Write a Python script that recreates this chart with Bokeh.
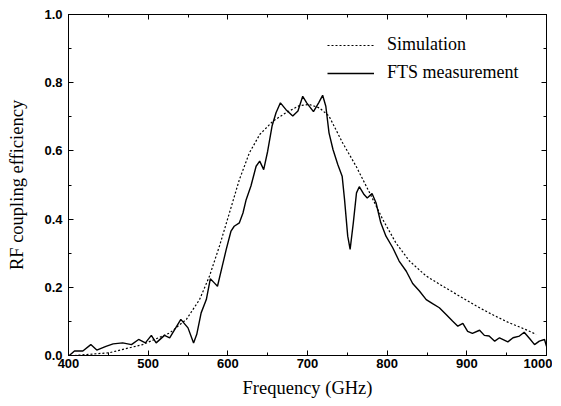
from bokeh.plotting import figure
from bokeh.models import (Range1d, LinearAxis, SingleIntervalTicker, PrintfTickFormatter,
                          Legend, LegendItem, CustomJSTickFormatter)
from bokeh.embed import file_html
from bokeh.resources import INLINE

# FTS measurement
freq_meas = [401, 407.5, 418, 428, 435.5, 447, 456, 468, 479, 488, 496.5, 504, 510, 520.5, 527,
             541, 550, 557, 561, 566.5, 573, 578, 583, 587, 593, 598, 604, 608, 614.5, 619, 623,
             629, 635.5, 640, 645, 650, 655.5, 660.5, 666, 673, 681.5, 688, 694, 699, 707.5, 714,
             719, 723, 727, 732, 738, 743.5, 746.5, 750.5, 753.5, 757.5, 761.5, 765, 771, 775,
             781, 786, 792, 798.5, 807, 815, 824, 832, 840.5, 849, 857, 865.5, 874, 882, 888.7,
             895, 901, 907, 916, 922, 928, 935, 941, 951.5, 958, 966, 972, 979, 985, 991, 997.5, 1000]
eff_meas = [0.0, 0.013, 0.013, 0.032, 0.016, 0.027, 0.034, 0.037, 0.032, 0.047, 0.037, 0.059, 0.037,
            0.059, 0.052, 0.106, 0.081, 0.037, 0.062, 0.125, 0.164, 0.225, 0.213, 0.203, 0.262,
            0.311, 0.365, 0.379, 0.389, 0.418, 0.457, 0.497, 0.555, 0.570, 0.545, 0.599, 0.673,
            0.712, 0.741, 0.721, 0.702, 0.717, 0.760, 0.741, 0.715, 0.741, 0.763, 0.731, 0.653,
            0.604, 0.560, 0.526, 0.457, 0.350, 0.311, 0.389, 0.477, 0.495, 0.472, 0.462, 0.475,
            0.448, 0.389, 0.350, 0.316, 0.277, 0.247, 0.211, 0.189, 0.164, 0.152, 0.140, 0.120,
            0.101, 0.086, 0.094, 0.071, 0.065, 0.074, 0.059, 0.057, 0.042, 0.052, 0.040, 0.052,
            0.057, 0.068, 0.049, 0.032, 0.042, 0.047, 0.027]

# Simulation
freq_sim = [407.5, 451, 493, 527, 548, 564.5, 577, 589.5, 602, 614.5, 627, 640, 656.5, 673, 690,
            702.5, 715, 727, 744, 761, 778, 794.5, 811, 828, 849, 870, 891, 912, 932, 953, 974, 987]
eff_sim = [0.0, 0.008, 0.032, 0.066, 0.106, 0.164, 0.233, 0.321, 0.418, 0.516, 0.594, 0.648, 0.687,
           0.712, 0.733, 0.736, 0.726, 0.702, 0.624, 0.555, 0.477, 0.399, 0.330, 0.277, 0.233,
           0.203, 0.174, 0.145, 0.120, 0.096, 0.076, 0.062]

x_label = "Frequency (GHz)"
y_label = "RF coupling efficiency"
legend_labels = ["Simulation", "FTS measurement"]

SERIF = "Liberation Serif"
SANS = "Liberation Sans"

p = figure(width=552, height=403, output_backend="svg", toolbar_location=None,
           x_range=Range1d(400, 1000), y_range=Range1d(0, 1.0),
           min_border_left=68, min_border_right=6, min_border_top=14, min_border_bottom=48,
           x_axis_label=x_label, y_axis_label=y_label)
p.grid.visible = False
p.outline_line_color = "black"
p.outline_line_width = 1
p.background_fill_color = "white"
p.border_fill_color = "white"

p.xaxis.ticker = SingleIntervalTicker(interval=100, num_minor_ticks=2)
p.yaxis.ticker = SingleIntervalTicker(interval=0.2, num_minor_ticks=2)
p.yaxis.formatter = PrintfTickFormatter(format="%.1f")


def style(ax):
    ax.major_tick_in = 5
    ax.major_tick_out = 0
    ax.minor_tick_in = 3
    ax.minor_tick_out = 0
    ax.axis_line_color = "black"
    ax.major_tick_line_color = "black"
    ax.minor_tick_line_color = "black"
    ax.major_label_text_font = SANS
    ax.major_label_text_font_size = "13px"
    ax.major_label_text_font_style = "bold"
    ax.major_label_text_color = "black"
    ax.axis_label_text_font = SERIF
    ax.axis_label_text_font_size = "18.5px"
    ax.axis_label_text_font_style = "normal"
    ax.axis_label_text_color = "black"


for ax in p.xaxis + p.yaxis:
    style(ax)
p.xaxis.major_label_standoff = 3
p.xaxis.axis_label_standoff = 7
p.yaxis.major_label_standoff = 6
p.yaxis.axis_label_standoff = 14

top = LinearAxis(ticker=SingleIntervalTicker(interval=100, num_minor_ticks=2),
                 formatter=CustomJSTickFormatter(code="return ''"))
right = LinearAxis(ticker=SingleIntervalTicker(interval=0.2, num_minor_ticks=2),
                   formatter=CustomJSTickFormatter(code="return ''"))
for ax in (top, right):
    style(ax)
    ax.major_label_standoff = 0
p.add_layout(top, "above")
p.add_layout(right, "right")

r_sim = p.line(freq_sim, eff_sim, line_color="black", line_width=1.2, line_dash="2 2")
r_meas = p.line(freq_meas, eff_meas, line_color="black", line_width=1.4)

legend = Legend(items=[LegendItem(label=legend_labels[0], renderers=[r_sim]),
                       LegendItem(label=legend_labels[1], renderers=[r_meas])],
                location=(259, 272))
legend.border_line_color = None
legend.background_fill_alpha = 0
legend.padding = 0
legend.margin = 0
legend.spacing = 7
legend.glyph_width = 47
legend.glyph_height = 20
legend.label_height = 20
legend.label_standoff = 13
legend.label_text_font = SERIF
legend.label_text_font_size = "18px"
legend.label_text_color = "black"
p.add_layout(legend, "center")

open("out.html", "w").write(file_html(p, INLINE))
